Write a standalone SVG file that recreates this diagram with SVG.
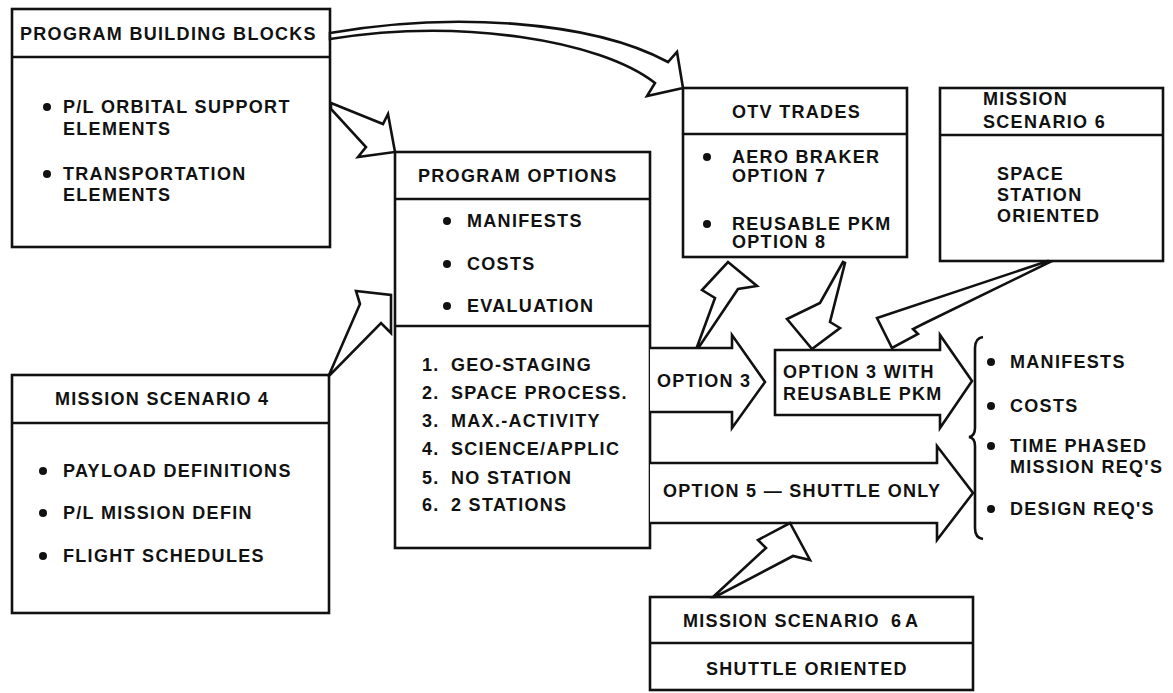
<svg xmlns="http://www.w3.org/2000/svg" width="1173" height="693" viewBox="0 0 1173 693">
<style>
.bx{fill:#fff;stroke:#111;stroke-width:2.6}
.ln{fill:none;stroke:#111;stroke-width:2.6}
.ar{fill:#fff;stroke:#111;stroke-width:2.6;stroke-linejoin:miter}
text{font-family:"Liberation Sans",Arial,sans-serif;font-weight:bold;font-size:18px;letter-spacing:1.3px;fill:#111}
.dot{fill:#111}
</style>
<rect width="1173" height="693" fill="#fff"/>

<g id="program-building-blocks">
<rect class="bx" x="12" y="9" width="318" height="238"/>
<line class="ln" x1="12" y1="57" x2="330" y2="57"/>
<text x="20" y="40">PROGRAM BUILDING BLOCKS</text>
<circle class="dot" cx="47" cy="107" r="4"/>
<text x="63" y="113">P/L ORBITAL SUPPORT</text>
<text x="63" y="135">ELEMENTS</text>
<circle class="dot" cx="47" cy="174" r="4"/>
<text x="63" y="180">TRANSPORTATION</text>
<text x="63" y="201">ELEMENTS</text>
</g>

<g id="mission-scenario-4">
<rect class="bx" x="12" y="375" width="317" height="238"/>
<line class="ln" x1="12" y1="423" x2="329" y2="423"/>
<text x="55" y="405">MISSION SCENARIO 4</text>
<circle class="dot" cx="43" cy="471" r="4"/>
<text x="63" y="477">PAYLOAD DEFINITIONS</text>
<circle class="dot" cx="43" cy="513" r="4"/>
<text x="63" y="519">P/L MISSION DEFIN</text>
<circle class="dot" cx="43" cy="556" r="4"/>
<text x="63" y="562">FLIGHT SCHEDULES</text>
</g>

<g id="program-options">
<rect class="bx" x="395" y="152" width="255" height="396"/>
<line class="ln" x1="395" y1="199" x2="650" y2="199"/>
<line class="ln" x1="395" y1="326" x2="650" y2="326"/>
<text x="418" y="182">PROGRAM OPTIONS</text>
<circle class="dot" cx="447" cy="221" r="4"/>
<text x="467" y="227">MANIFESTS</text>
<circle class="dot" cx="447" cy="264" r="4"/>
<text x="467" y="270">COSTS</text>
<circle class="dot" cx="447" cy="306" r="4"/>
<text x="467" y="312">EVALUATION</text>
<text x="422" y="371">1.</text><text x="451" y="371">GEO-STAGING</text>
<text x="422" y="399">2.</text><text x="451" y="399">SPACE PROCESS.</text>
<text x="422" y="427">3.</text><text x="451" y="427">MAX.-ACTIVITY</text>
<text x="422" y="455">4.</text><text x="451" y="455">SCIENCE/APPLIC</text>
<text x="422" y="484">5.</text><text x="451" y="484">NO STATION</text>
<text x="422" y="511">6.</text><text x="451" y="511">2 STATIONS</text>
</g>

<g id="otv-trades">
<rect class="bx" x="683" y="88" width="224" height="169"/>
<line class="ln" x1="683" y1="134" x2="907" y2="134"/>
<text x="732" y="118">OTV TRADES</text>
<circle class="dot" cx="707" cy="157" r="4"/>
<text x="732" y="163">AERO BRAKER</text>
<text x="732" y="182">OPTION 7</text>
<circle class="dot" cx="707" cy="224" r="4"/>
<text x="732" y="230">REUSABLE PKM</text>
<text x="732" y="248">OPTION 8</text>
</g>

<g id="mission-scenario-6">
<rect class="bx" x="940" y="88" width="223" height="173"/>
<line class="ln" x1="940" y1="135" x2="1163" y2="135"/>
<text x="983" y="105">MISSION</text>
<text x="983" y="128">SCENARIO 6</text>
<text x="997" y="180">SPACE</text>
<text x="997" y="201">STATION</text>
<text x="997" y="222">ORIENTED</text>
</g>

<g id="mission-scenario-6a">
<rect class="bx" x="650" y="597" width="323" height="93"/>
<line class="ln" x1="650" y1="643" x2="973" y2="643"/>
<text x="683" y="627">MISSION SCENARIO<tspan x="891" style="letter-spacing:4px">6A</tspan></text>
<text x="706" y="675">SHUTTLE ORIENTED</text>
</g>

<g id="option-3">
<path class="ar" d="M650,348 L732,348 L732,335 L765,382 L732,428 L732,412 L650,412"/>
<text x="657" y="387">OPTION 3</text>
</g>

<g id="option-3-with-reusable-pkm">
<path class="ar" d="M775,350 L940,350 L940,335 L972,381 L940,428 L940,415 L775,415 Z"/>
<text x="783" y="378">OPTION 3 WITH</text>
<text x="783" y="400">REUSABLE  PKM</text>
</g>

<g id="option-5">
<path class="ar" d="M650,463 L937,463 L937,446 L973,493 L937,540 L937,523 L650,523"/>
<text x="663" y="497">OPTION 5 — SHUTTLE ONLY</text>
</g>

<g id="outputs">
<path class="ln" d="M983,337 Q975,338 975,348 L975,428 Q975,436 969,437 Q975,438 975,446 L975,528 Q975,538 983,539"/>
<circle class="dot" cx="991" cy="362" r="4"/>
<text x="1010" y="368">MANIFESTS</text>
<circle class="dot" cx="991" cy="406" r="4"/>
<text x="1010" y="412">COSTS</text>
<circle class="dot" cx="991" cy="446" r="4"/>
<text x="1010" y="452">TIME PHASED</text>
<text x="1010" y="473">MISSION REQ'S</text>
<circle class="dot" cx="991" cy="509" r="4"/>
<text x="1010" y="515">DESIGN REQ'S</text>
</g>

<g id="connectors">
<path class="ar" d="M330,33 C450,12 590,20 668,62 L677,52 L683,88 L647,96 L655,83 C600,40 460,18 330,39 Z"/>
<path class="ar" d="M331,103 L383,124 L388,114 L395,152 L358,157 L366,147 L331,109 Z"/>
<path class="ar" d="M329,375 L360,304 L356,291 L391,295 L391,333 L381,323 L330,375 Z"/>
<path class="ar" d="M697,347 L715,298 L702,290 L728,262 L757,286 L738,289 L699,347 Z"/>
<path class="ar" d="M843,262 L820,303 L787,319 L812,349 L840,328 L830,322 L845,263 Z"/>
<path class="ar" d="M1048,261 L877,318 L892,348 L918,334 L913,329 L925,323 L1050,262 Z"/>
<path class="ar" d="M713,597 L766,548 L758,540 L790,523 L810,560 L793,556 L715,597 Z"/>
</g>
</svg>
